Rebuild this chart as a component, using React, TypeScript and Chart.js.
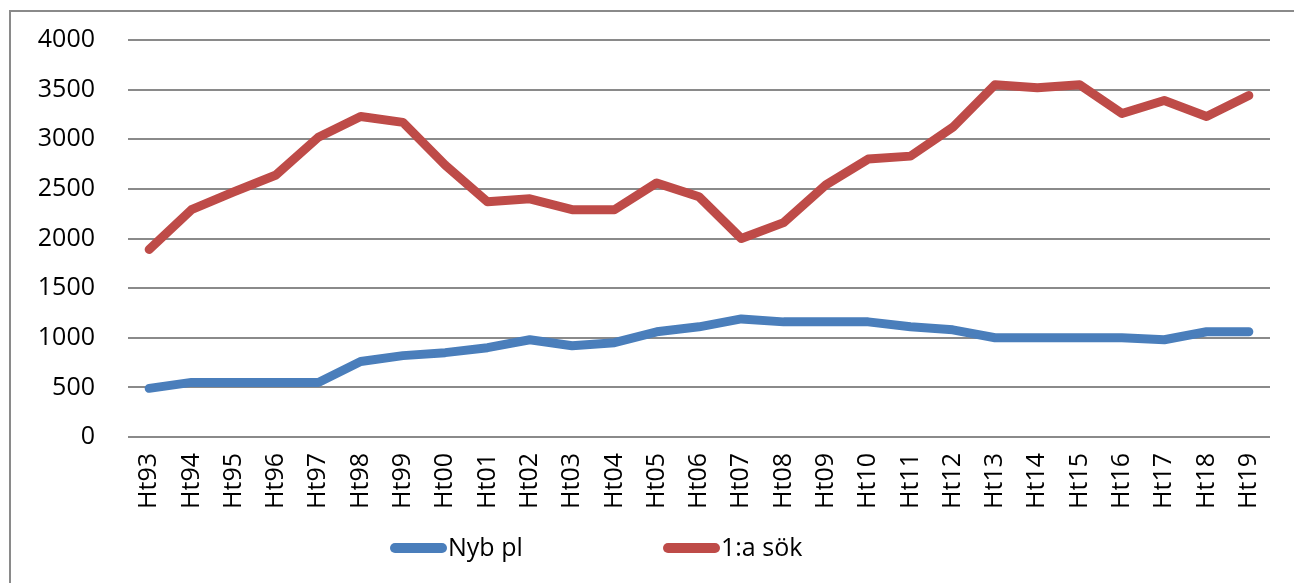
import React, { useEffect, useRef } from "react";
import { Chart, registerables } from "chart.js";

Chart.register(...registerables);

const categories = [
  "Ht93", "Ht94", "Ht95", "Ht96", "Ht97", "Ht98", "Ht99", "Ht00", "Ht01", "Ht02",
  "Ht03", "Ht04", "Ht05", "Ht06", "Ht07", "Ht08", "Ht09", "Ht10", "Ht11", "Ht12",
  "Ht13", "Ht14", "Ht15", "Ht16", "Ht17", "Ht18", "Ht19",
];

const nybPl = [
  490, 550, 550, 550, 550, 760, 820, 850, 900, 980,
  920, 950, 1060, 1110, 1190, 1160, 1160, 1160, 1110, 1080,
  1000, 1000, 1000, 1000, 980, 1060, 1060,
];

const forstaSok = [
  1890, 2290, 2470, 2640, 3020, 3230, 3170, 2740, 2370, 2400,
  2290, 2290, 2560, 2420, 2000, 2160, 2540, 2800, 2830, 3120,
  3550, 3520, 3550, 3260, 3390, 3230, 3440,
];

const seriesNames = ["Nyb pl", "1:a sök"];
const seriesColors = ["#4A7EBB", "#BE4B48"];

const FONT = "'Open Sans', 'DejaVu Sans', sans-serif";
const FONT_SIZE = 25;
const GRID = "#8a8a8a";

const framePlugin = {
  id: "frame",
  beforeDraw(chart: any) {
    const ctx = chart.ctx;
    ctx.save();
    ctx.strokeStyle = GRID;
    ctx.lineWidth = 2;
    ctx.beginPath();
    ctx.moveTo(10, chart.height);
    ctx.lineTo(10, 11);
    ctx.lineTo(chart.width, 11);
    ctx.stroke();
    ctx.restore();
  },
};

const legendPlugin = {
  id: "customLegend",
  afterDraw(chart: any) {
    const ctx = chart.ctx;
    const y = 548;
    const starts = [390, 663];
    ctx.save();
    ctx.font = `${FONT_SIZE}px ${FONT}`;
    ctx.textBaseline = "middle";
    ctx.textAlign = "left";
    chart.data.datasets.forEach((ds: any, i: number) => {
      const x0 = starts[i];
      ctx.strokeStyle = ds.borderColor;
      ctx.lineWidth = 10;
      ctx.lineCap = "round";
      ctx.beginPath();
      ctx.moveTo(x0 + 5, y);
      ctx.lineTo(x0 + 52, y);
      ctx.stroke();
      ctx.fillStyle = "#000";
      ctx.fillText(ds.label, x0 + 58, y + 1);
    });
    ctx.restore();
  },
};

export default function App() {
  const ref = useRef<HTMLCanvasElement | null>(null);

  useEffect(() => {
    if (!ref.current) return;
    const chart = new Chart(ref.current, {
      type: "line",
      data: {
        labels: categories,
        datasets: [
          {
            label: seriesNames[0],
            data: nybPl,
            borderColor: seriesColors[0],
            backgroundColor: seriesColors[0],
            borderWidth: 9,
            pointRadius: 0,
            borderCapStyle: "round",
            borderJoinStyle: "round",
            tension: 0,
          },
          {
            label: seriesNames[1],
            data: forstaSok,
            borderColor: seriesColors[1],
            backgroundColor: seriesColors[1],
            borderWidth: 9,
            pointRadius: 0,
            borderCapStyle: "round",
            borderJoinStyle: "round",
            tension: 0,
          },
        ],
      },
      options: {
        responsive: false,
        animation: false,
        layout: { padding: { top: 40, right: 24, left: 0, bottom: 0 } },
        plugins: {
          legend: { display: false },
          tooltip: { enabled: false },
        },
        scales: {
          x: {
            offset: true,
            grid: { display: false, drawTicks: false },
            border: { display: false },
            ticks: {
              minRotation: 90,
              maxRotation: 90,
              autoSkip: false,
              padding: 16,
              color: "#000",
              font: { family: FONT, size: FONT_SIZE },
            },
            afterFit(scale: any) {
              scale.height = 146;
              scale.paddingLeft = 0;
              scale.paddingRight = 0;
            },
          },
          y: {
            min: 0,
            max: 4000,
            grid: { color: GRID, lineWidth: 2, drawTicks: false },
            border: { display: false },
            ticks: {
              stepSize: 500,
              padding: 33,
              color: "#000",
              font: { family: FONT, size: FONT_SIZE },
              callback: (v: any) => String(v),
            },
            afterFit(scale: any) {
              scale.width = 128;
              scale.paddingTop = 0;
              scale.paddingBottom = 0;
            },
          },
        },
      },
      plugins: [framePlugin, legendPlugin],
    });
    return () => chart.destroy();
  }, []);

  return (
    <div style={{ position: "fixed", left: 0, top: 0, width: 1294, height: 583, background: "#fff" }}>
      <canvas ref={ref} width={1294} height={583} style={{ display: "block" }} />
    </div>
  );
}
